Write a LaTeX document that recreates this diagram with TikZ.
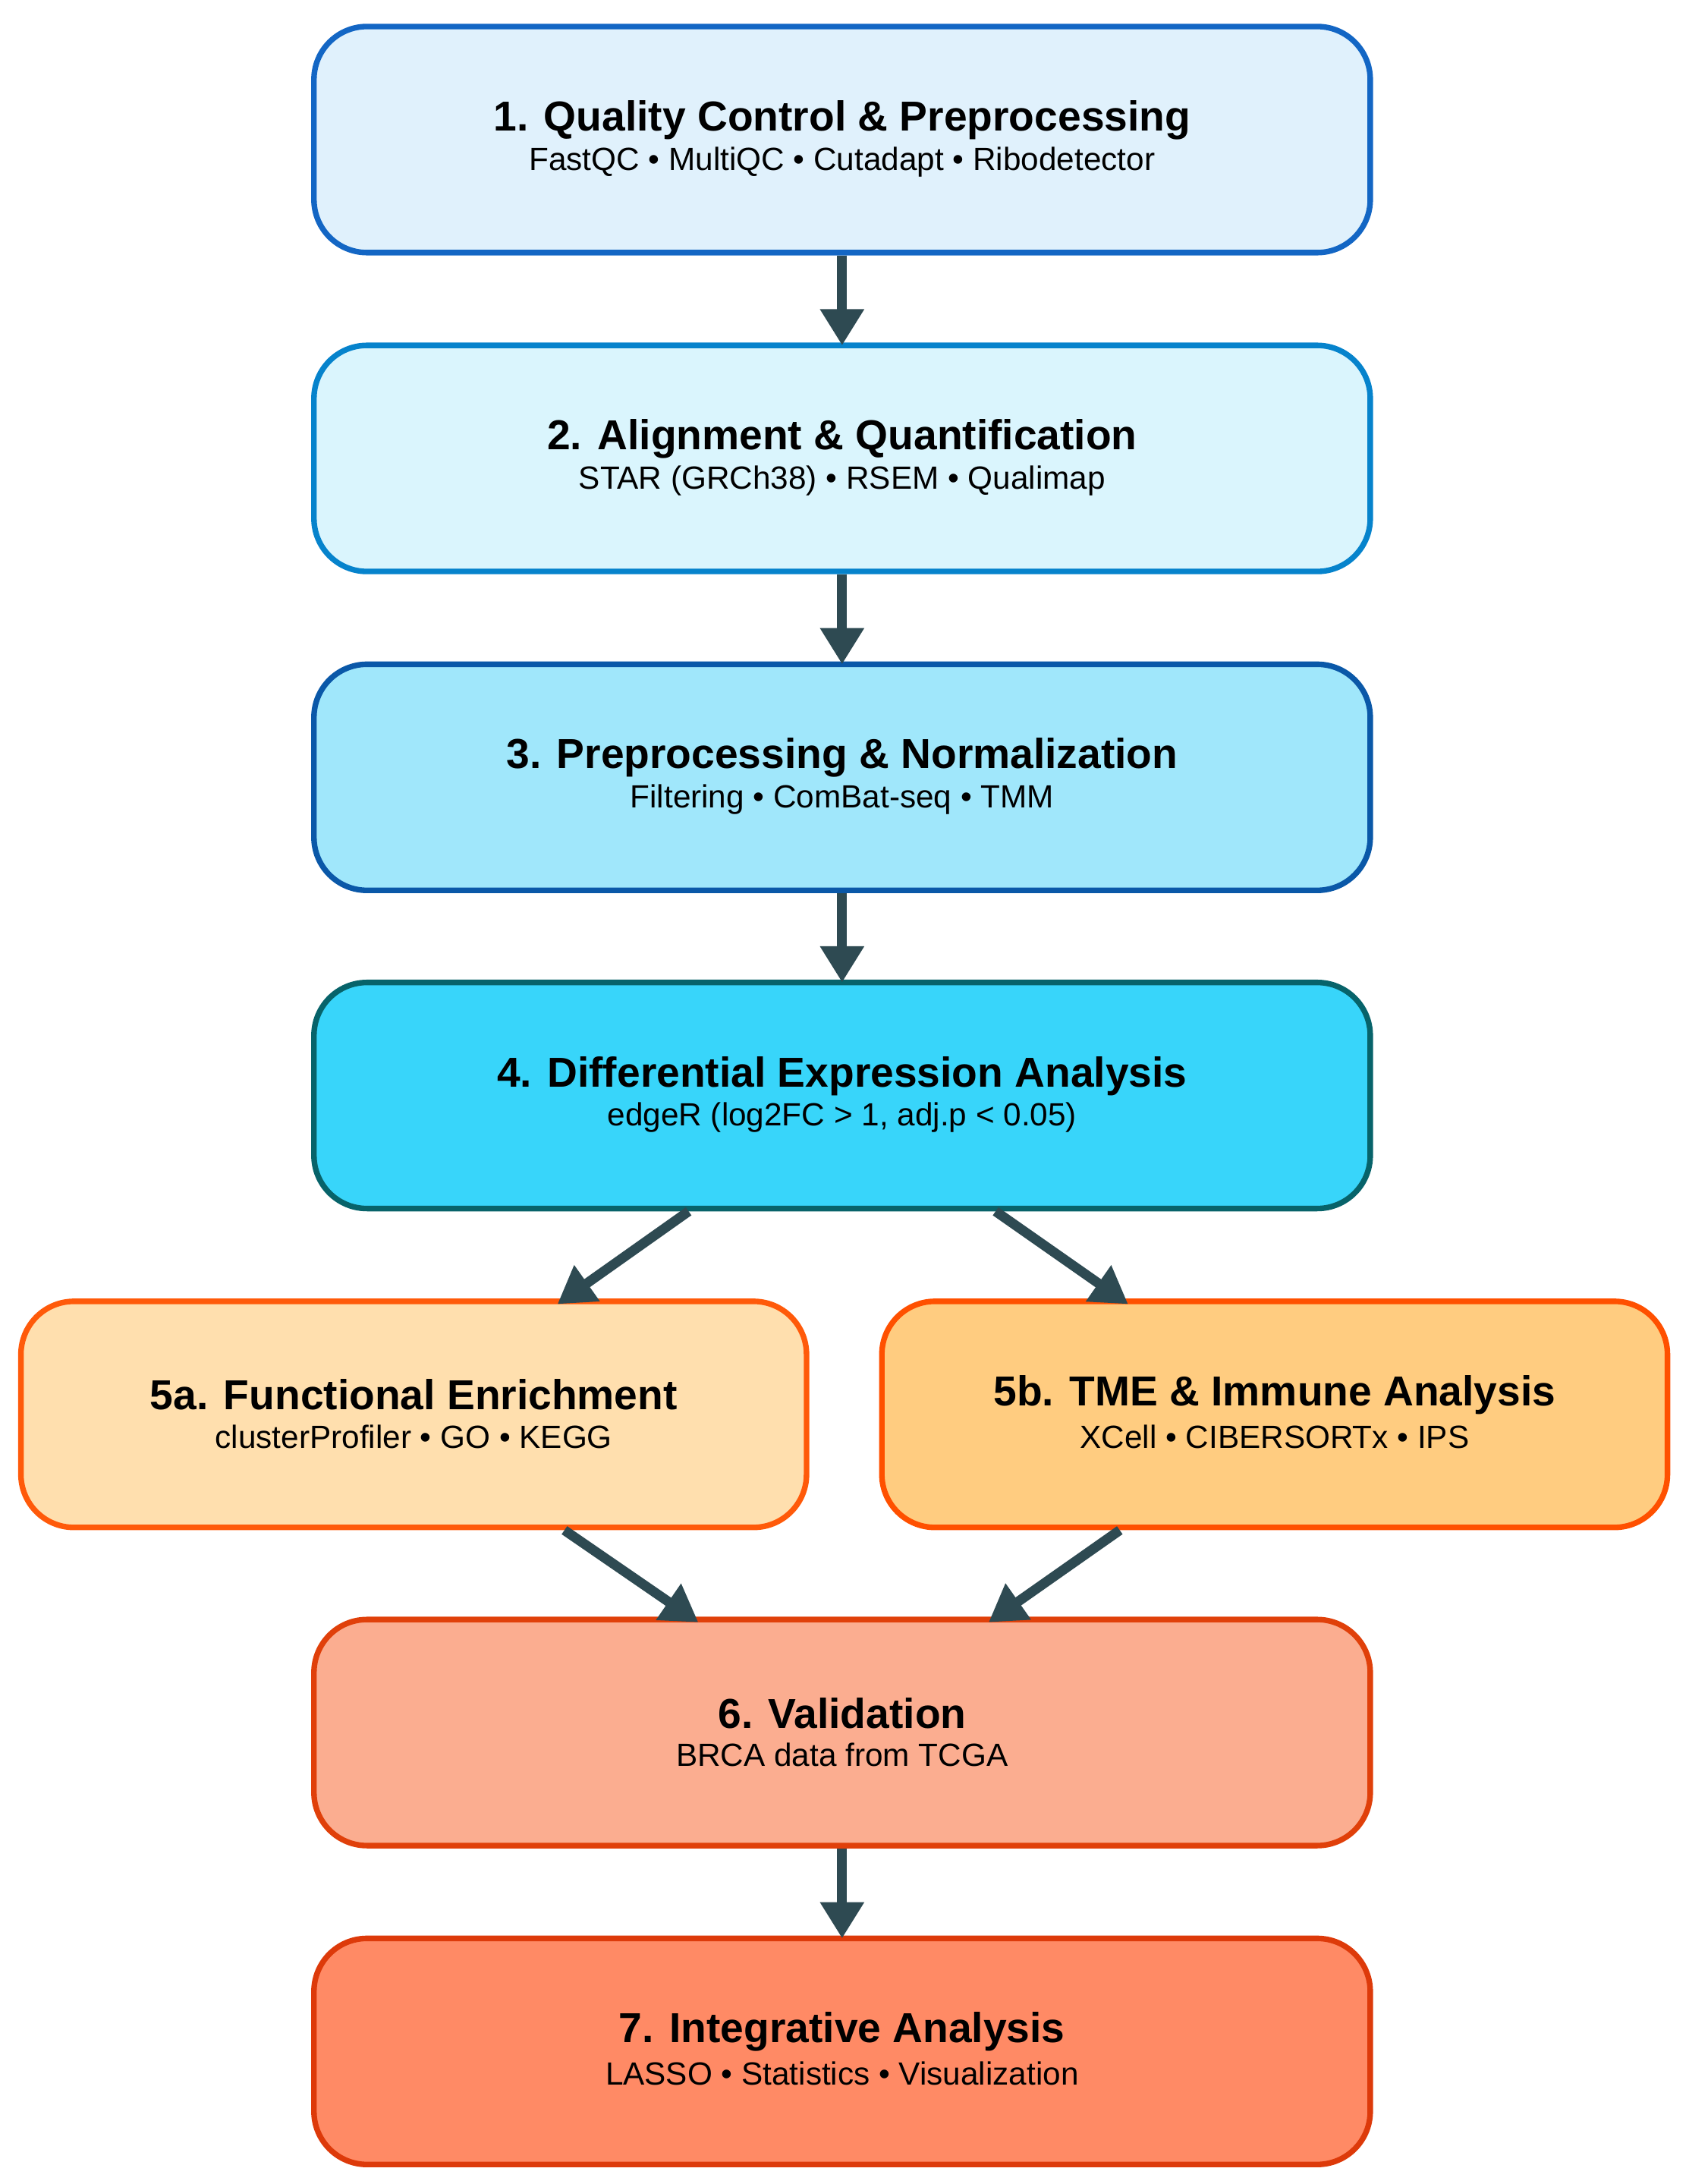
\documentclass[tikz,border=0pt]{standalone}
\usepackage{fontspec}
\setmainfont{Liberation Sans}
\usetikzlibrary{arrows.meta}
\definecolor{arr}{HTML}{2E4A52}
\definecolor{f1}{HTML}{E0F1FC}\definecolor{d1}{HTML}{1366C4}
\definecolor{f2}{HTML}{DAF5FD}\definecolor{d2}{HTML}{0683CC}
\definecolor{f3}{HTML}{A0E7FB}\definecolor{d3}{HTML}{0A58A8}
\definecolor{f4}{HTML}{38D5FA}\definecolor{d4}{HTML}{07636A}
\definecolor{f5a}{HTML}{FFDFAE}\definecolor{d5a}{HTML}{FF5A0A}
\definecolor{f5b}{HTML}{FFCC80}\definecolor{d5b}{HTML}{FF5000}
\definecolor{f6}{HTML}{FBAD90}\definecolor{d6}{HTML}{E0400A}
\definecolor{f7}{HTML}{FF8A65}\definecolor{d7}{HTML}{DD3A0A}
\begin{document}
\begin{tikzpicture}[x=1pt,y=-1pt,
 box/.style={draw,line width=4pt,rounded corners=38pt,minimum height=162pt,align=center,inner sep=0pt},
 wide/.style={box,minimum width=757pt},
 half/.style={box,minimum width=563pt},
 ar/.style={draw=arr,line width=7pt,-{Triangle[length=26pt,width=30pt]}},
 ttl/.style={font=\fontsize{30}{34}\selectfont\bfseries},
 sub/.style={font=\fontsize{23}{26}\selectfont}]
\useasboundingbox (0,0) rectangle (1210,1565);
\newcommand{\lbl}[3]{%
 \node[ttl] at ([yshift=14pt]#1.center) {#2};
 \node[sub] at ([yshift=-16pt]#1.center) {#3};}
\node[wide,fill=f1,draw=d1] (b1) at (603.5,100) {};
\node[wide,fill=f2,draw=d2] (b2) at (603.5,328.5) {};
\node[wide,fill=f3,draw=d3] (b3) at (603.5,557) {};
\node[wide,fill=f4,draw=d4] (b4) at (603.5,785) {};
\node[half,fill=f5a,draw=d5a] (b5a) at (296.5,1013.5) {};
\node[half,fill=f5b,draw=d5b] (b5b) at (913.5,1013.5) {};
\node[wide,fill=f6,draw=d6] (b6) at (603.5,1241.5) {};
\node[wide,fill=f7,draw=d7] (b7) at (603.5,1470) {};
\lbl{b1}{1. Quality Control \& Preprocessing}{FastQC • MultiQC • Cutadapt • Ribodetector}
\lbl{b2}{2. Alignment \& Quantification}{STAR (GRCh38) • RSEM • Qualimap}
\lbl{b3}{3. Preprocessing \& Normalization}{Filtering • ComBat-seq • TMM}
\lbl{b4}{4. Differential Expression Analysis}{edgeR (log2FC > 1, adj.p < 0.05)}
\lbl{b5a}{5a. Functional Enrichment}{clusterProfiler • GO • KEGG}
\lbl{b5b}{5b. TME \& Immune Analysis}{XCell • CIBERSORTx • IPS}
\lbl{b6}{6. Validation}{BRCA data from TCGA}
\lbl{b7}{7. Integrative Analysis}{LASSO • Statistics • Visualization}
\draw[ar] (b1.south) -- ([yshift=-2pt]b2.north);
\draw[ar] (b2.south) -- ([yshift=-2pt]b3.north);
\draw[ar] (b3.south) -- ([yshift=-2pt]b4.north);
\draw[ar] ([xshift=-110pt]b4.south) -- ([xshift=103pt,yshift=-4pt]b5a.north);
\draw[ar] ([xshift=110pt]b4.south) -- ([xshift=-105pt,yshift=-4pt]b5b.north);
\draw[ar] ([xshift=108pt]b5a.south) -- ([xshift=-103pt,yshift=-4pt]b6.north);
\draw[ar] ([xshift=-111pt]b5b.south) -- ([xshift=105pt,yshift=-4pt]b6.north);
\draw[ar] (b6.south) -- ([yshift=-2pt]b7.north);
\end{tikzpicture}
\end{document}
